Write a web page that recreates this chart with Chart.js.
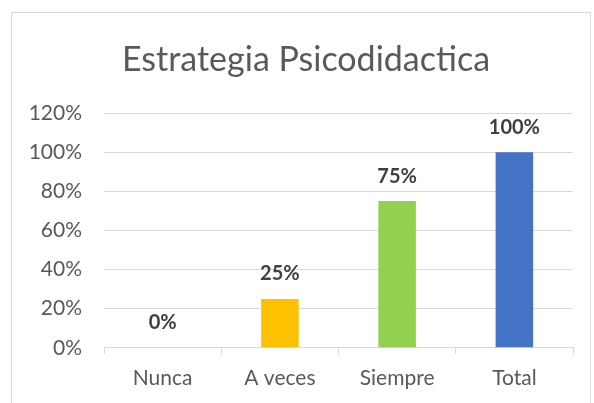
<!DOCTYPE html>
<html>
<head>
<meta charset="utf-8">
<script src="https://cdn.jsdelivr.net/npm/chart.js@4/dist/chart.umd.min.js"></script>
<style>
  body { margin: 0; background: #fff; overflow: hidden; }
  #marco { position: absolute; left: 11px; top: 12px; width: 578px; height: 400px; border: 1px solid #d9d9d9; }
  #chart { display: block; }
</style>
</head>
<body>
<div id="marco"><canvas id="chart" width="578" height="390"></canvas></div>
<script>
// datos del grafico
const titulo = "Estrategia Psicodidactica";
const categorias = ["Nunca", "A veces", "Siempre", "Total"];
const porcentajes = [0, 25, 75, 100];
const colores = ["#A5A5A5", "#FFC000", "#92D050", "#4472C4"];
const marcasY = [0, 20, 40, 60, 80, 100, 120];

const fuente = "Lato, 'Open Sans', sans-serif";

// titulo un poco a la derecha del centro, como en el original
const tituloPlugin = {
    id: "tituloPlugin",
    afterDraw(chart) {
        const ctx = chart.ctx;
        ctx.save();
        ctx.font = "34px " + fuente;
        ctx.fillStyle = "#595959";
        ctx.textAlign = "center";
        ctx.textBaseline = "middle";
        ctx.fillText(titulo, chart.width / 2 + 5, 47);
        ctx.restore();
    }
};

// etiquetas encima de las barras
const etiquetas = {
    id: "etiquetas",
    afterDatasetsDraw(chart) {
        const ctx = chart.ctx;
        const meta = chart.getDatasetMeta(0);
        ctx.save();
        ctx.font = "bold 20px " + fuente;
        ctx.fillStyle = "#404040";
        ctx.textAlign = "center";
        ctx.textBaseline = "middle";
        meta.data.forEach((bar, i) => {
            ctx.fillText(porcentajes[i] + "%", bar.x, bar.y - 25);
        });
        ctx.restore();
    }
};

const ctx = document.getElementById("chart").getContext("2d");
new Chart(ctx, {
    type: "bar",
    data: {
        labels: categorias,
        datasets: [{
            data: porcentajes,
            backgroundColor: colores,
            categoryPercentage: 1,
            barPercentage: 0.32
        }]
    },
    options: {
        responsive: false,
        animation: false,
        layout: { padding: { top: 100, right: 17, bottom: 0 } },
        plugins: {
            legend: { display: false },
            tooltip: { enabled: false },
            title: { display: false }
        },
        scales: {
            x: {
                grid: { drawOnChartArea: false, drawTicks: true, tickLength: 6, color: "#d9d9d9" },
                border: { color: "#d9d9d9" },
                ticks: { color: "#595959", padding: 12, font: { family: fuente, size: 21 } }
            },
            y: {
                min: 0,
                max: 120,
                afterBuildTicks: (scale) => { scale.ticks = marcasY.map(v => ({ value: v })); },
                afterFit: (scale) => { scale.width = 92; },
                grid: { color: "#d9d9d9", drawTicks: false },
                border: { display: false },
                ticks: {
                    color: "#595959",
                    padding: 22,
                    font: { family: fuente, size: 21 },
                    callback: (v) => v + "%"
                }
            }
        }
    },
    plugins: [tituloPlugin, etiquetas]
});
</script>
</body>
</html>
